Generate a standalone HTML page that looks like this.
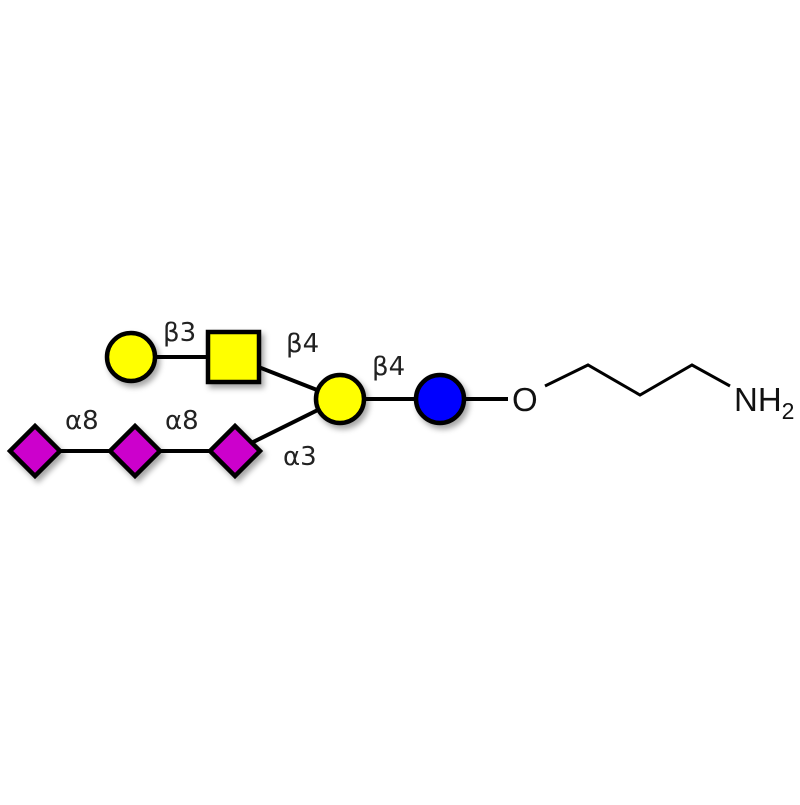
<!DOCTYPE html>
<html><head><style>body{margin:0;background:#fff}</style></head><body>
<svg width="800" height="800" xmlns="http://www.w3.org/2000/svg" font-family="'DejaVu Sans','Liberation Sans',sans-serif">
<defs><filter id="s" x="-50%" y="-50%" width="200%" height="200%"><feDropShadow dx="3" dy="4" stdDeviation="3" flood-color="#000" flood-opacity="0.35"/></filter></defs>
<g stroke="#000" stroke-width="4">
<line x1="131" y1="357" x2="233" y2="357"/>
<line x1="233" y1="357" x2="340" y2="399"/>
<line x1="35" y1="451" x2="235" y2="451"/>
<line x1="235" y1="451" x2="340" y2="399"/>
<line x1="340" y1="399" x2="508" y2="399"/>
</g>
<polyline points="545,386 588,365 640,395 692,365 730,386" fill="none" stroke="#000" stroke-width="3"/>
<g stroke="#000" stroke-width="4.5" filter="url(#s)">
<circle cx="131" cy="357" r="24" fill="#ffff00"/>
<rect x="208" y="332" width="51" height="50" fill="#ffff00"/>
<circle cx="340" cy="399" r="24" fill="#ffff00"/>
<circle cx="440" cy="399" r="24" fill="#0000ff"/>
<polygon points="35,426 60,451 35,476 10,451" fill="#cc00cc"/>
<polygon points="135,426 160,451 135,476 110,451" fill="#cc00cc"/>
<polygon points="235,426 260,451 235,476 210,451" fill="#cc00cc"/>
</g>
<g font-size="26" fill="#222">
<text x="163" y="341">β3</text>
<text x="286" y="352">β4</text>
<text x="372" y="375">β4</text>
<text x="65" y="429">α8</text>
<text x="165" y="429">α8</text>
<text x="283" y="465">α3</text>
</g>
<g font-family="'Liberation Sans',sans-serif" fill="#111">
<text x="512" y="411" font-size="33">O</text>
<text x="734" y="411" font-size="33">NH<tspan font-size="23" dy="8">2</tspan></text>
</g>
</svg>
</body></html>
